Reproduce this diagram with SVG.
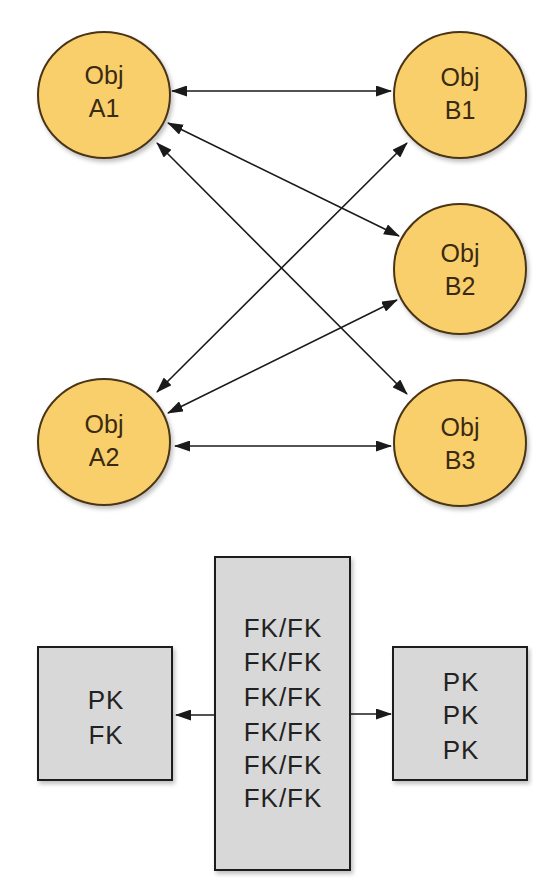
<svg xmlns="http://www.w3.org/2000/svg" width="533" height="882" viewBox="0 0 533 882">
<defs>
<marker id="ah" viewBox="0 0 16 11" refX="15" refY="5.5" markerWidth="16" markerHeight="11" markerUnits="userSpaceOnUse" orient="auto-start-reverse">
<path d="M0,0 L16,5.5 L0,11 Z" fill="#1a1a1a"/>
</marker>
<filter id="sh" x="-10%" y="-10%" width="130%" height="130%">
<feDropShadow dx="2" dy="3" stdDeviation="2" flood-color="#000" flood-opacity="0.25"/>
</filter>
</defs>
<style>
.obj{fill:#f9cf6c;stroke:#4a3518;stroke-width:2;filter:url(#sh)}
.ot{font-family:"Liberation Sans",Arial,sans-serif;font-size:25px;fill:#3a2a12;text-anchor:middle}
.box{fill:#d8d8d8;stroke:#1a1a1a;stroke-width:2;filter:url(#sh)}
.bt{font-family:"Liberation Sans",Arial,sans-serif;font-size:26px;letter-spacing:1px;fill:#222222;text-anchor:middle}
.c{stroke:#1a1a1a;stroke-width:1.6;fill:none;marker-start:url(#ah);marker-end:url(#ah)}
</style>
<rect width="533" height="882" fill="#ffffff"/>
<g id="connectors">
<line class="c" x1="172" y1="91" x2="391" y2="91"/>
<line class="c" x1="168" y1="123" x2="399" y2="236"/>
<line class="c" x1="157" y1="143" x2="407" y2="394"/>
<line class="c" x1="157" y1="392" x2="407" y2="143"/>
<line class="c" x1="168" y1="413" x2="397" y2="300"/>
<line class="c" x1="175" y1="446" x2="391" y2="446"/>
<line class="c" x1="215" y1="715" x2="176" y2="715" style="marker-start:none"/>
<line class="c" x1="350" y1="714" x2="391" y2="714" style="marker-start:none"/>
</g>
<g id="A1"><ellipse class="obj" cx="104" cy="95" rx="66" ry="63"/><text class="ot" x="104" y="84">Obj</text><text class="ot" x="104" y="117">A1</text></g>
<g id="A2"><ellipse class="obj" cx="104" cy="442" rx="66" ry="63"/><text class="ot" x="104" y="433">Obj</text><text class="ot" x="104" y="466">A2</text></g>
<g id="B1"><ellipse class="obj" cx="460" cy="95" rx="66" ry="63"/><text class="ot" x="460" y="86">Obj</text><text class="ot" x="460" y="119">B1</text></g>
<g id="B2"><ellipse class="obj" cx="460" cy="269" rx="66" ry="65"/><text class="ot" x="460" y="262">Obj</text><text class="ot" x="460" y="295">B2</text></g>
<g id="B3"><ellipse class="obj" cx="460" cy="443" rx="66" ry="63"/><text class="ot" x="460" y="436">Obj</text><text class="ot" x="460" y="469">B3</text></g>
<g id="left"><rect class="box" x="38" y="647" width="134" height="133"/><text class="bt" x="106" y="709">PK</text><text class="bt" x="106" y="744">FK</text></g>
<g id="middle"><rect class="box" x="215" y="557" width="135" height="313"/>
<text class="bt" x="283" y="637">FK/FK</text><text class="bt" x="283" y="671">FK/FK</text><text class="bt" x="283" y="706">FK/FK</text><text class="bt" x="283" y="741">FK/FK</text><text class="bt" x="283" y="774">FK/FK</text><text class="bt" x="283" y="807">FK/FK</text></g>
<g id="right"><rect class="box" x="393" y="647" width="134" height="133"/><text class="bt" x="461" y="691">PK</text><text class="bt" x="461" y="724">PK</text><text class="bt" x="461" y="759">PK</text></g>
</svg>
